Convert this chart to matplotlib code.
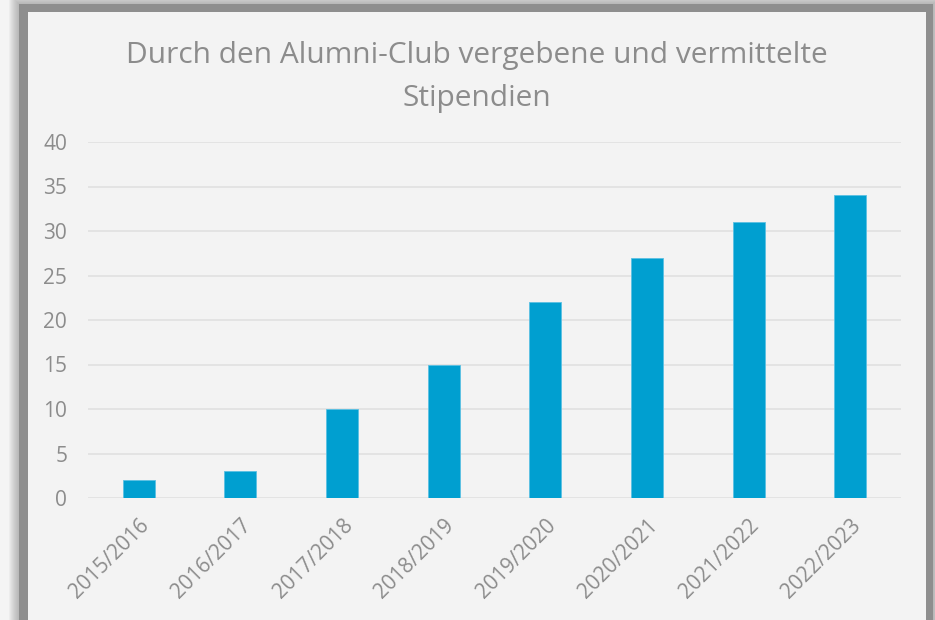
import matplotlib
matplotlib.use("Agg")
import matplotlib.pyplot as plt
from matplotlib.patches import Rectangle

categories = ["2015/2016", "2016/2017", "2017/2018", "2018/2019",
              "2019/2020", "2020/2021", "2021/2022", "2022/2023"]
values = [2, 3, 10, 15, 22, 27, 31, 34]
title = "Durch den Alumni-Club vergebene und vermittelte\nStipendien"
yticks = [0, 5, 10, 15, 20, 25, 30, 35, 40]

W, H = 935, 620
plt.rcParams['font.family'] = ['Open Sans', 'DejaVu Sans']
fig = plt.figure(figsize=(W / 100, H / 100), dpi=100)
fig.patch.set_facecolor('#f4f4f4')

def px_rect(x0, y0, x1, y1, **kw):
    # pixel coords with origin top-left
    r = Rectangle((x0 / W, 1 - y1 / H), (x1 - x0) / W, (y1 - y0) / H,
                  transform=fig.transFigure, figure=fig, **kw)
    fig.patches.append(r)
    return r

# soft shadow
for i in range(10, 0, -1):
    px_rect(19 - i, 4 - i, 933 + i, 640, facecolor='#7a7a7a', edgecolor='none',
            alpha=0.06, zorder=-12)
# dark frame
px_rect(19, 4, 933, 640, facecolor='#8e8e8e', edgecolor='none', zorder=-11)
# inner panel
px_rect(28, 12, 926, 640, facecolor='#f3f3f3', edgecolor='none', zorder=-10)

ax = fig.add_axes([88 / W, 1 - 498 / H, (901 - 88) / W, (498 - 142) / H])
ax.set_facecolor('none')
x = list(range(len(categories)))
ax.bar(x, values, width=0.315, color='#009fd0', edgecolor='#5bc0e3',
       linewidth=0.6, zorder=3)
ax.set_xlim(-0.5, len(categories) - 0.5)
ax.set_ylim(0, 40)
ax.set_yticks(yticks)
ax.set_yticklabels([str(v) for v in yticks])
ax.yaxis.grid(True, color='#e2e2e2', linewidth=1.3, zorder=0)
ax.set_axisbelow(True)
for s in ax.spines.values():
    s.set_visible(False)
ax.tick_params(axis='y', length=0, pad=15, labelsize=15, labelcolor='#8c8c8c')
ax.tick_params(axis='x', length=0, pad=12, labelsize=15, labelcolor='#8c8c8c')
ax.set_xticks(x)
ax.set_xticklabels(categories, rotation=45, ha='right', rotation_mode='anchor')

fig.text(0.5 * (28 + 926) / W, 1 - 77 / H, title, ha='center', va='center',
         fontsize=21.5, color='#8c8c8c', linespacing=1.68)

fig.savefig("out.png", dpi=100)
